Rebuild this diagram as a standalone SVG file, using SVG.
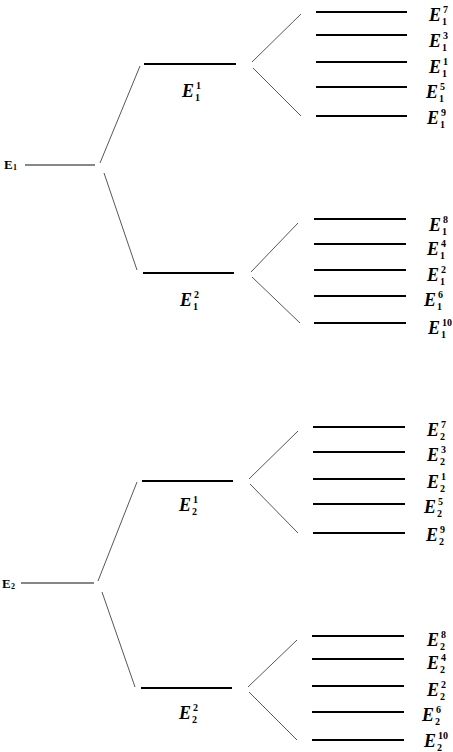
<svg xmlns="http://www.w3.org/2000/svg" width="453" height="752" viewBox="0 0 453 752">
<style>
.lv{stroke:#000;stroke-width:2;fill:none}
.base{stroke:#111;stroke-width:1.2;fill:none}
.cn{stroke:#444;stroke-width:0.9;fill:none}
.E{font-family:"Liberation Serif",serif;font-style:italic;font-weight:bold;font-size:18px;fill:#000}
.s{font-family:"Liberation Serif",serif;font-style:normal;font-weight:bold;font-size:10px;fill:#000}
.L{font-family:"Liberation Serif",serif;font-weight:bold;font-size:13px;fill:#000}
.Ls{font-family:"Liberation Serif",serif;font-weight:bold;font-size:8px;fill:#000}
</style>
<rect width="453" height="752" fill="#fff"/>
<g id="connectors">
<line class="base" x1="25" y1="165" x2="95" y2="165"/>
<line class="cn" x1="100" y1="163" x2="140" y2="66"/>
<line class="cn" x1="104" y1="173" x2="137" y2="270"/>
<line class="cn" x1="252" y1="62" x2="301" y2="14"/>
<line class="cn" x1="253" y1="68" x2="301" y2="116"/>
<line class="cn" x1="251" y1="272" x2="298" y2="223"/>
<line class="cn" x1="252" y1="277" x2="300" y2="323"/>
<line class="base" x1="21" y1="583" x2="94" y2="583"/>
<line class="cn" x1="98" y1="581" x2="137" y2="482"/>
<line class="cn" x1="102" y1="592" x2="135" y2="687"/>
<line class="cn" x1="249" y1="479" x2="298" y2="431"/>
<line class="cn" x1="250" y1="484" x2="298" y2="533"/>
<line class="cn" x1="248" y1="687" x2="297" y2="640"/>
<line class="cn" x1="249" y1="692" x2="297" y2="740"/>
</g>
<g id="E1"><text class="L" x="4" y="169">E</text><text class="Ls" x="13" y="170">1</text></g>
<g id="E2"><text class="L" x="2" y="588">E</text><text class="Ls" x="11" y="589">2</text></g>
<g id="E1_1"><line class="lv" x1="144" y1="64" x2="236" y2="64"/><text class="E" x="182" y="97">E</text><text class="s" x="196" y="89">1</text><text class="s" x="195" y="101">1</text></g>
<g id="E1_2"><line class="lv" x1="143" y1="273" x2="234" y2="273"/><text class="E" x="180" y="306">E</text><text class="s" x="194" y="298">2</text><text class="s" x="193" y="310">1</text></g>
<g id="E2_1"><line class="lv" x1="142" y1="481" x2="233" y2="481"/><text class="E" x="179" y="511">E</text><text class="s" x="193" y="503">1</text><text class="s" x="192" y="515">2</text></g>
<g id="E2_2"><line class="lv" x1="141" y1="688" x2="232" y2="688"/><text class="E" x="179" y="719">E</text><text class="s" x="193" y="711">2</text><text class="s" x="192" y="723">2</text></g>
<g id="E1_7"><line class="lv" x1="316" y1="12" x2="407" y2="12"/><text class="E" x="429" y="21">E</text><text class="s" x="443" y="13">7</text><text class="s" x="442" y="25">1</text></g>
<g id="E1_3"><line class="lv" x1="316" y1="35" x2="407" y2="35"/><text class="E" x="429" y="47">E</text><text class="s" x="443" y="39">3</text><text class="s" x="442" y="51">1</text></g>
<g id="E1_1b"><line class="lv" x1="316" y1="62" x2="407" y2="62"/><text class="E" x="429" y="73">E</text><text class="s" x="443" y="65">1</text><text class="s" x="442" y="77">1</text></g>
<g id="E1_5"><line class="lv" x1="316" y1="87" x2="407" y2="87"/><text class="E" x="426" y="98">E</text><text class="s" x="440" y="90">5</text><text class="s" x="439" y="102">1</text></g>
<g id="E1_9"><line class="lv" x1="316" y1="116" x2="407" y2="116"/><text class="E" x="427" y="124">E</text><text class="s" x="441" y="116">9</text><text class="s" x="440" y="128">1</text></g>
<g id="E1_8"><line class="lv" x1="314" y1="219" x2="406" y2="219"/><text class="E" x="429" y="231">E</text><text class="s" x="443" y="223">8</text><text class="s" x="442" y="235">1</text></g>
<g id="E1_4"><line class="lv" x1="314" y1="244" x2="406" y2="244"/><text class="E" x="427" y="255">E</text><text class="s" x="441" y="247">4</text><text class="s" x="440" y="259">1</text></g>
<g id="E1_2b"><line class="lv" x1="314" y1="270" x2="406" y2="270"/><text class="E" x="427" y="281">E</text><text class="s" x="441" y="273">2</text><text class="s" x="440" y="285">1</text></g>
<g id="E1_6"><line class="lv" x1="314" y1="296" x2="406" y2="296"/><text class="E" x="424" y="306">E</text><text class="s" x="438" y="298">6</text><text class="s" x="437" y="310">1</text></g>
<g id="E1_10"><line class="lv" x1="314" y1="323" x2="406" y2="323"/><text class="E" x="428" y="334">E</text><text class="s" x="442" y="326">10</text><text class="s" x="441" y="338">1</text></g>
<g id="E2_7"><line class="lv" x1="313" y1="427" x2="405" y2="427"/><text class="E" x="427" y="436">E</text><text class="s" x="441" y="428">7</text><text class="s" x="440" y="440">2</text></g>
<g id="E2_3"><line class="lv" x1="313" y1="452" x2="405" y2="452"/><text class="E" x="427" y="461">E</text><text class="s" x="441" y="453">3</text><text class="s" x="440" y="465">2</text></g>
<g id="E2_1b"><line class="lv" x1="313" y1="479" x2="405" y2="479"/><text class="E" x="427" y="488">E</text><text class="s" x="441" y="480">1</text><text class="s" x="440" y="492">2</text></g>
<g id="E2_5"><line class="lv" x1="313" y1="504" x2="405" y2="504"/><text class="E" x="424" y="513">E</text><text class="s" x="438" y="505">5</text><text class="s" x="437" y="517">2</text></g>
<g id="E2_9"><line class="lv" x1="313" y1="533" x2="405" y2="533"/><text class="E" x="426" y="541">E</text><text class="s" x="440" y="533">9</text><text class="s" x="439" y="545">2</text></g>
<g id="E2_8"><line class="lv" x1="312" y1="636" x2="404" y2="636"/><text class="E" x="427" y="646">E</text><text class="s" x="441" y="638">8</text><text class="s" x="440" y="650">2</text></g>
<g id="E2_4"><line class="lv" x1="312" y1="659" x2="404" y2="659"/><text class="E" x="427" y="669">E</text><text class="s" x="441" y="661">4</text><text class="s" x="440" y="673">2</text></g>
<g id="E2_2b"><line class="lv" x1="312" y1="686" x2="404" y2="686"/><text class="E" x="427" y="696">E</text><text class="s" x="441" y="688">2</text><text class="s" x="440" y="700">2</text></g>
<g id="E2_6"><line class="lv" x1="312" y1="712" x2="404" y2="712"/><text class="E" x="422" y="721">E</text><text class="s" x="436" y="713">6</text><text class="s" x="435" y="725">2</text></g>
<g id="E2_10"><line class="lv" x1="312" y1="740" x2="404" y2="740"/><text class="E" x="424" y="747">E</text><text class="s" x="438" y="739">10</text><text class="s" x="437" y="751">2</text></g>
</svg>
